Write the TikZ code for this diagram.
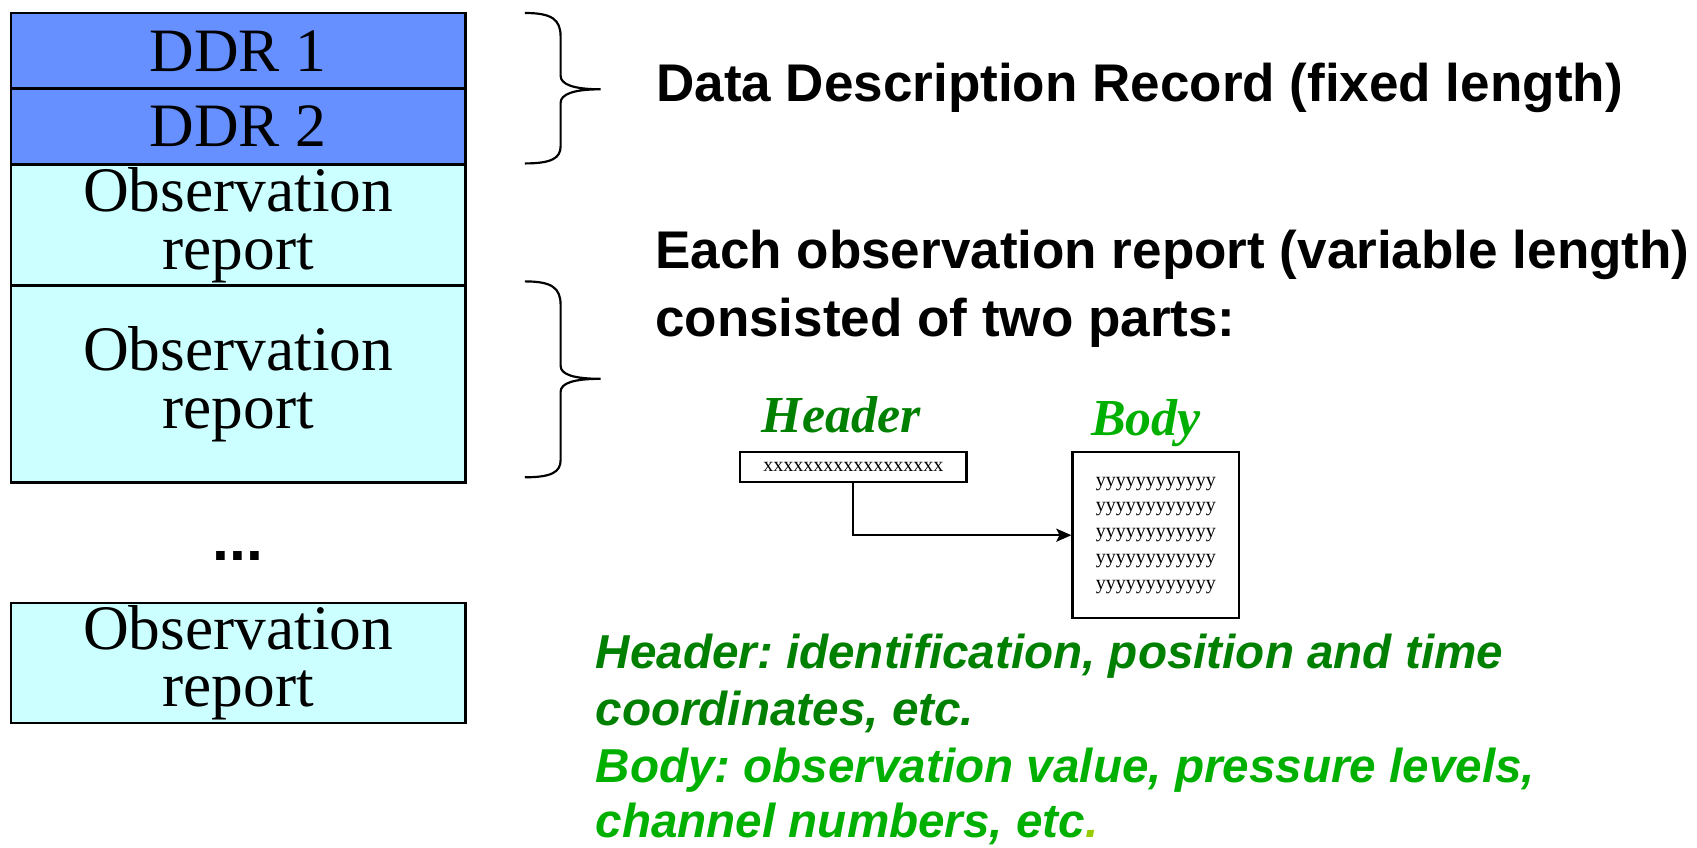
\documentclass[tikz,border=0pt]{standalone}
\usepackage{fontspec}
\setmainfont{Liberation Serif}
\newfontfamily\arialfont{Liberation Sans}
\usetikzlibrary{arrows.meta}
\frenchspacing

\definecolor{ddrblue}{RGB}{102,143,255}
\definecolor{obscyan}{RGB}{204,255,255}
\definecolor{hdrgreen}{RGB}{0,128,0}
\definecolor{bodygreen}{RGB}{0,176,0}
\definecolor{dotyellow}{RGB}{153,204,0}

\tikzset{
  recbox/.style={draw=black, line width=1.2pt, minimum width=210pt, inner sep=0pt,
    align=center, font=\fontsize{28.5}{26.5}\selectfont},
  ddrrec/.style={recbox, fill=ddrblue, minimum height=35pt},
  obsrec/.style={recbox, fill=obscyan, font=\fontsize{29.3}{26.5}\selectfont},
  brace/.style={draw=black, line width=1pt},
  blacklabel/.style={anchor=base west, inner sep=0pt, font=\arialfont\bfseries\fontsize{24.5}{31.5}\selectfont},
  greenlabel/.style={anchor=base west, inner sep=0pt, font=\arialfont\bfseries\itshape\fontsize{22}{26.5}\selectfont},
  parttitle/.style={anchor=base, inner sep=0pt, font=\bfseries\itshape\fontsize{24}{28}\selectfont},
  partbox/.style={draw=black, line width=1pt, inner sep=0pt, fill=white,
    font=\fontsize{9.25}{11.9}\selectfont, align=center},
  link/.style={draw=black, line width=1pt, -{Stealth[length=7pt,width=6pt,inset=1.5pt]}}
}

\begin{document}
\begin{tikzpicture}[x=0.5pt, y=-0.5pt]
\useasboundingbox (0,0) rectangle (1568,783);

% record column
\node[ddrrec] (ddr1) at (220,47) {DDR 1};
\node[ddrrec] (ddr2) at (220,117) {DDR 2};
\node[obsrec, minimum height=56pt] (obs1) at (220,208) {Observation\\report};
\node[obsrec, minimum height=91pt] (obs2) at (220,355) {Observation\\report};
\node[anchor=base, inner sep=0pt, font=\arialfont\bfseries\fontsize{28}{30}\selectfont] (dots) at (220,518) {...};
\node[obsrec, minimum height=55.5pt] (obsN) at (220,612.5) {Observation\\report};

% curly braces
\draw[brace] (485,12) .. controls (510,12) and (518,18) .. (518,34) -- (518,70)
  .. controls (518,78) and (530,82.5) .. (555,82.5)
  .. controls (530,82.5) and (518,87) .. (518,95) -- (518,135)
  .. controls (518,146) and (510,151) .. (485,151);
\draw[brace] (485,260) .. controls (510,260) and (518,266) .. (518,282) -- (518,338)
  .. controls (518,346) and (530,350) .. (555,350)
  .. controls (530,350) and (518,354) .. (518,362) -- (518,425)
  .. controls (518,436) and (510,441) .. (485,441);

% descriptions
\node[blacklabel] (ddrtxt) at (606,94) {Data Description Record (fixed length)};
\node[blacklabel] (obstxt1) at (605,248) {Each observation report (variable length)};
\node[blacklabel] (obstxt2) at (605,311) {consisted of two parts:};

% header / body sketch
\node[parttitle, text=hdrgreen] (hdrtitle) at (777,400) {Header};
\node[parttitle, text=bodygreen] (bodytitle) at (1059,402) {Body};
\node[partbox, minimum width=104.5pt, minimum height=13.5pt] (hdr) at (788.5,431.5) {xxxxxxxxxxxxxxxxxx};
\node[partbox, minimum width=77pt, minimum height=76.5pt] (body) at (1068,494.5)
  {yyyyyyyyyyyy\\yyyyyyyyyyyy\\yyyyyyyyyyyy\\yyyyyyyyyyyy\\yyyyyyyyyyyy};
\draw[link] (hdr.south) |- (body.west);

% notes on the two parts
\node[greenlabel, text=hdrgreen] (note1) at (550,618) {Header: identification, position and time};
\node[greenlabel, text=hdrgreen] (note2) at (550,670) {coordinates, etc.};
\node[greenlabel, text=bodygreen] (note3) at (550,723) {Body: observation value, pressure levels,};
\node[greenlabel, text=bodygreen] (note4) at (550,774) {channel numbers, etc\textcolor{dotyellow}{.}};
\end{tikzpicture}
\end{document}
